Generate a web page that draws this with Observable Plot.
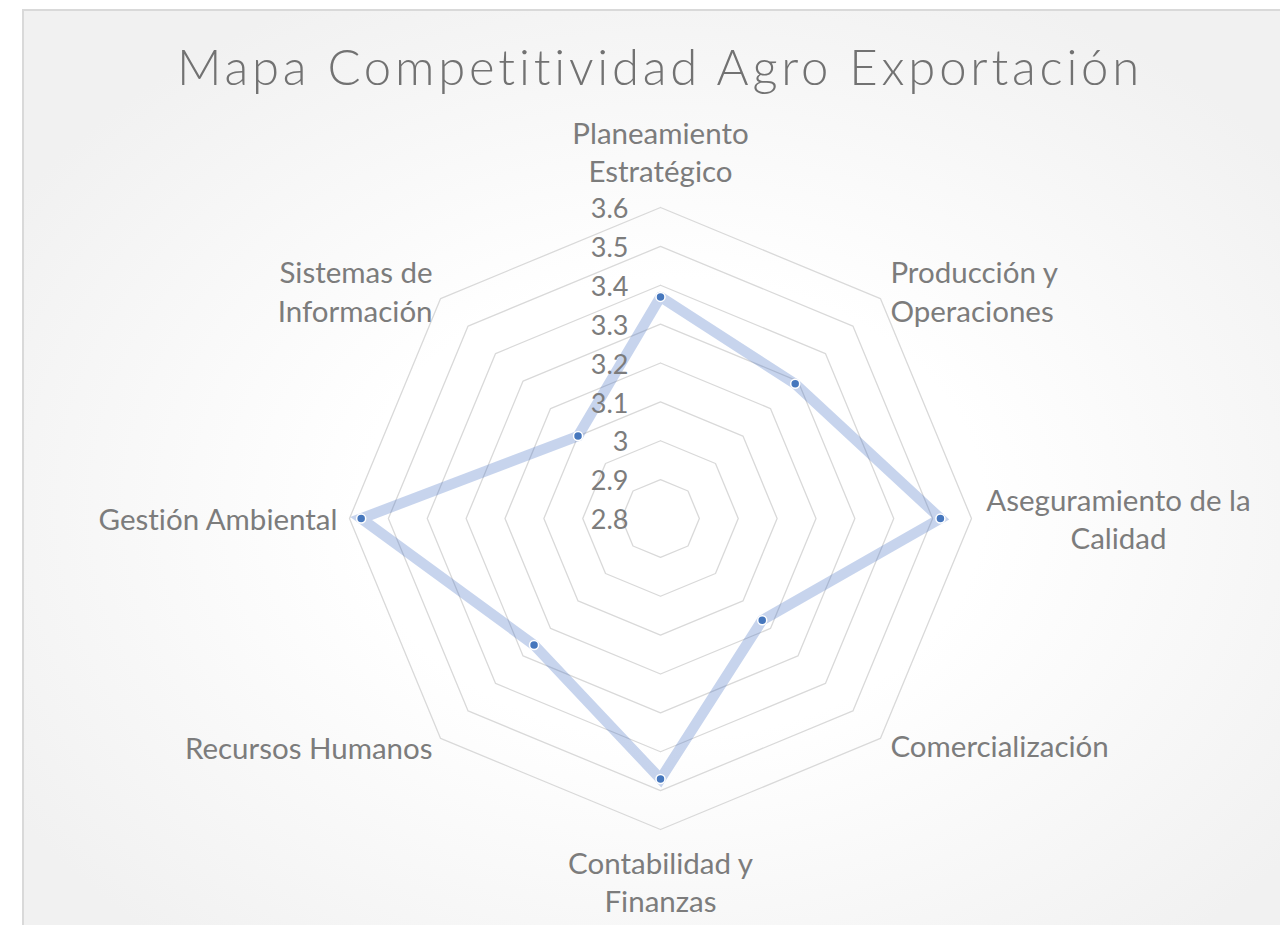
<!DOCTYPE html>
<html><head><meta charset="utf-8">
<script src="https://cdn.jsdelivr.net/npm/d3@7"></script>
<script src="https://cdn.jsdelivr.net/npm/@observablehq/plot@0.6"></script>
<style>
body{margin:0;background:#fff;}
#wrap{position:relative;width:1280px;height:925px;overflow:hidden;}
#box{position:absolute;left:22px;top:9px;width:1300px;height:960px;border:2px solid #d9d9d9;box-sizing:border-box;
 background:radial-gradient(ellipse 60% 60% at 50% 52%, #ffffff 40%, #f1f1f1 100%);}
#title{position:absolute;left:0;width:1320px;top:41px;text-align:center;font:300 49px Lato, sans-serif;letter-spacing:3.8px;line-height:50px;color:#727272;white-space:nowrap;font-variant-ligatures:none;}
#chart{position:absolute;left:0;top:0;}
#chart text{font-variant-ligatures:none;}
</style>
</head><body>
<div id="wrap"><div id="box"></div><div id="title">Mapa Competitividad Agro Exportación</div><div id="chart"></div></div>
<script>
const categories = ["Planeamiento\nEstratégico","Producción y\nOperaciones","Aseguramiento de la\nCalidad","Comercialización","Contabilidad y\nFinanzas","Recursos Humanos","Gestión Ambiental","Sistemas de\nInformación"];
const values = [3.37, 3.29, 3.52, 3.17, 3.47, 3.26, 3.57, 3.10];
const ticks = [2.8, 2.9, 3.0, 3.1, 3.2, 3.3, 3.4, 3.5, 3.6];
const tickLabels = ["2.8","2.9","3","3.1","3.2","3.3","3.4","3.5","3.6"];

const vMin = 2.8, vMax = 3.6;
const R = 311; // px radius of outer ring
const n = categories.length;
const rad = v => (v - vMin) / (vMax - vMin);
const ang = i => i * 2 * Math.PI / n;
const px = (r, i) => r * Math.sin(ang(i));
const py = (r, i) => r * Math.cos(ang(i));

const rings = [];
ticks.filter(t => t > vMin).forEach(t => {
  for (let i = 0; i <= n; i++) rings.push({level: t, x: px(rad(t), i % n), y: py(rad(t), i % n)});
});
const series = [];
for (let i = 0; i <= n; i++) { const k = i % n; series.push({cat: categories[k], value: values[k], x: px(rad(values[k]), k), y: py(rad(values[k]), k)}); }
const points = series.slice(0, n);
const tickData = ticks.map((t, i) => ({label: tickLabels[i], x: 0, y: rad(t)}));
const layout = [
  {anchor:"middle", ox:0, oy:-57},
  {anchor:"start", ox:10, oy:-9},
  {anchor:"middle", ox:147, oy:-1},
  {anchor:"start", ox:10, oy:6},
  {anchor:"middle", ox:0, oy:51},
  {anchor:"end", ox:-8, oy:8},
  {anchor:"end", ox:-12, oy:-1},
  {anchor:"end", ox:-8, oy:-9}
];
const labels = categories.map((c, i) => ({
  text: c, anchor: layout[i].anchor,
  x: px(1, i) + layout[i].ox / R,
  y: py(1, i) - layout[i].oy / R
}));

const cx = 660, cy = 518;
const font = "Lato, sans-serif";
const gray = "#7c7c7c";
const labelMark = a => Plot.text(labels.filter(d => d.anchor === a), {x:"x", y:"y", text:"text", textAnchor:a, lineAnchor:"middle", fontSize:29.5, lineHeight:1.32, fill:gray, fontFamily:font});

const chart = Plot.plot({
  width: 1280, height: 925,
  margin: 0,
  style: {background: "transparent"},
  x: {domain: [-1, 1], range: [cx - R, cx + R], axis: null},
  y: {domain: [-1, 1], range: [cy + R, cy - R], axis: null},
  marks: [
    Plot.line(rings, {x:"x", y:"y", z:"level", stroke:"#d9d9d9", strokeWidth:1.3}),
    Plot.line(series, {x:"x", y:"y", stroke:"#4472c4", strokeOpacity:0.3, strokeWidth:10.5, strokeLinejoin:"miter", strokeMiterlimit:10}),
    Plot.dot(points, {x:"x", y:"y", r:4.5, fill:"#4677bd", stroke:"white", strokeWidth:1.5}),
    Plot.text(tickData, {x:"x", y:"y", text:"label", textAnchor:"end", dx:-32, dy:2, fontSize:27, fill:gray, fontFamily:font}),
    labelMark("middle"), labelMark("start"), labelMark("end")
  ]
});
document.getElementById("chart").appendChild(chart);
</script>
</body></html>
